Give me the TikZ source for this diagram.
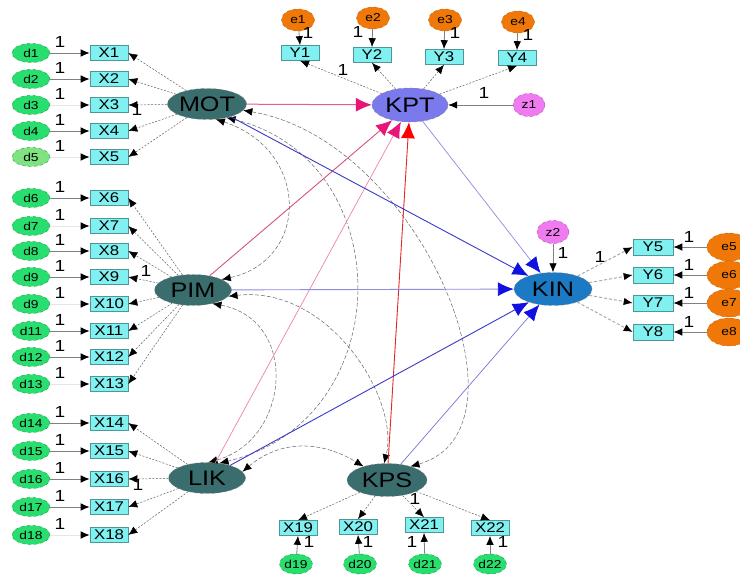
\documentclass[tikz,border=0pt]{standalone}
\usepackage{fontspec}
\setmainfont{Liberation Sans}
\newfontfamily\dfont[FakeStretch=1.2]{Liberation Sans}
\usetikzlibrary{shapes.geometric,arrows.meta}
\definecolor{latfill}{RGB}{58,110,110}
\definecolor{kptfill}{RGB}{122,122,236}
\definecolor{kinfill}{RGB}{28,122,196}
\definecolor{obsfill}{RGB}{128,240,240}
\definecolor{obsline}{RGB}{80,150,150}
\definecolor{dgreen}{RGB}{40,222,110}
\definecolor{dlight}{RGB}{128,226,128}
\definecolor{eorange}{RGB}{240,120,8}
\definecolor{zviolet}{RGB}{240,122,240}
\definecolor{mag}{RGB}{232,20,120}
\definecolor{magline}{RGB}{236,90,150}
\definecolor{pinkline}{RGB}{240,130,170}
\definecolor{redline}{RGB}{226,40,40}
\definecolor{bluehead}{RGB}{16,16,226}
\definecolor{bluedark}{RGB}{58,58,200}
\definecolor{bluelight}{RGB}{140,140,226}
\begin{document}
\begin{tikzpicture}[x=1pt,y=-1pt,
  lat/.style={ellipse, draw=black!50, dashed, line width=0.4pt, fill=latfill,
    minimum width=77pt, minimum height=31pt, inner sep=0pt,
    font=\dfont\fontsize{21}{21}\selectfont},
  obs/.style={rectangle, draw=obsline, line width=0.6pt, fill=obsfill,
    minimum width=38pt, minimum height=15pt, inner sep=0pt,
    font=\dfont\fontsize{14}{14}\selectfont},
  res/.style={ellipse, dashed, line width=0.4pt, minimum width=38pt,
    minimum height=19pt, inner sep=0pt, font=\dfont\fontsize{11.5}{11.5}\selectfont},
  dres/.style={res, fill=dgreen, draw=dgreen!70!black},
  eres/.style={res, fill=eorange, draw=eorange!80!black, minimum width=33pt, minimum height=22pt},
  zres/.style={res, fill=zviolet, draw=zviolet!70!black, minimum width=32pt, minimum height=23pt},
  one/.style={inner sep=0pt, font=\dfont\fontsize{16}{16}\selectfont},
  fix/.style={draw=gray, line width=0.8pt, -{Latex[color=black,length=9pt,width=7.5pt]}},
  load/.style={draw=gray!75!black, line width=0.5pt, dash pattern=on 2pt off 1.5pt,
    -{Latex[color=black,length=9pt,width=7.5pt]}},
  loadk/.style={draw=gray!65, line width=1pt, dash pattern=on 3pt off 2pt,
    -{Latex[color=black,length=9pt,width=7.5pt]}},
  cov/.style={draw=gray!80!black, line width=0.5pt, dash pattern=on 4pt off 2pt,
    {Latex[color=black,length=9pt,width=7.5pt]}-{Latex[color=black,length=9pt,width=7.5pt]}},
  tokpt/.style={line width=1pt, -{Latex[color=mag,length=16pt,width=14pt]}},
  tokin/.style={line width=0.9pt, -{Latex[color=bluehead,length=16pt,width=14pt]}}
]
\useasboundingbox (0,0) rectangle (740,577);
\clip (0,0) rectangle (740,577);
\fill[white] (0,0) rectangle (740,577);

% latent variables
\node[lat] (MOT) at (207,104) {MOT};
\node[lat] (PIM) at (193,290) {PIM};
\node[lat] (LIK) at (207,478) {LIK};
\node[lat, minimum width=80pt, minimum height=33pt] (KPS) at (387,480) {KPS};
\node[lat, fill=kptfill, minimum width=76pt, minimum height=34pt] (KPT) at (410,105) {KPT};
\node[lat, fill=kinfill, minimum width=78pt, minimum height=33pt] (KIN) at (553,289) {KIN};

% left indicators with their residuals
\foreach \i/\y/\lab/\fc/\lc in {
  1/53/d1/dgreen/gray, 2/79/d2/dgreen/gray, 3/105/d3/dgreen/gray!20,
  4/131/d4/dgreen/gray, 5/157/d5/dlight/gray!20,
  6/198/d6/dgreen/gray, 7/226/d7/dgreen/gray!20, 8/251/d8/dgreen/gray,
  9/277/d9/dgreen/gray, 10/304/d9/dgreen/gray!20, 11/331/d11/dgreen/gray,
  12/357/d12/dgreen/gray, 13/384/d13/dgreen/gray!20,
  14/423/d14/dgreen/gray, 15/451/d15/dgreen/gray, 16/479/d16/dgreen/gray,
  17/507/d17/dgreen/gray, 18/535/d18/dgreen/gray!20}{
  \node[dres, fill=\fc] (d\i) at (31,\y) {\lab};
  \node[obs] (X\i) at (109,\y) {X\i};
  \draw[fix, draw=\lc] (d\i) -- (X\i);
  \node[one] at (60,\y-11) {1};
}

% loadings of the left constructs
\foreach \i in {1,...,5} \draw[load] (MOT) -- (X\i.east);
\foreach \i in {6,...,13} \draw[load] (PIM) -- (X\i.east);
\foreach \i in {14,...,18} \draw[load] (LIK) -- (X\i.east);
\node[one] at (137,110) {1};
\node[one] at (146,271) {1};
\node[one] at (138,485) {1};

% KPT indicators
\foreach \i/\x/\y/\ex/\ey in {1/300/53/298/20, 2/372/55/373/18, 3/444/57/445/20, 4/517/58/518/22}{
  \node[obs] (Y\i) at (\x,\y) {Y\i};
  \node[eres] (e\i) at (\ex,\ey) {e\i};
  \draw[fix] (e\i) -- (Y\i.north);
  \draw[load] (KPT) -- (Y\i.south);
}
\node[one] at (308,33) {1};
\node[one] at (358,32) {1};
\node[one] at (455,33) {1};
\node[one] at (528,35) {1};
\node[one] at (343,70) {1};

\node[zres] (z1) at (529,105) {z1};
\draw[fix] (z1) -- (KPT);
\node[one] at (484,93) {1};

% KIN indicators
\node[zres] (z2) at (553,232) {z2};
\draw[fix] (z2) -- (KIN);
\node[one] at (563,253) {1};
\foreach \i/\y in {5/247, 6/275, 7/303, 8/332}{
  \node[obs, minimum width=40pt, minimum height=16pt] (Y\i) at (653,\y) {Y\i};
  \node[eres, minimum width=44pt, minimum height=28pt] (e\i) at (729,\y) {e\i};
  \draw[fix] (e\i) -- (Y\i.east);
  \draw[loadk] (KIN) -- (Y\i.west);
  \node[one] at (689,\y-10) {1};
}
\node[one] at (600,257) {1};

% KPS indicators
\foreach \i/\x/\y/\dx in {19/298/528/296, 20/358/527/360, 21/424/525/425, 22/490/528/490}{
  \node[obs] (X\i) at (\x,\y) {X\i};
  \node[dres, minimum width=33pt, minimum height=20pt] (d\i) at (\dx,564) {d\i};
  \draw[fix] (d\i) -- (X\i.south);
  \draw[load] (KPS) -- (X\i.north);
}
\node[one] at (309,542) {1};
\node[one] at (368,542) {1};
\node[one] at (412,542) {1};
\node[one] at (503,542) {1};
\node[one] at (415,499) {1};

% covariances among the exogenous constructs
\draw[cov] (MOT.-60) .. controls (310,150) and (310,260) .. (PIM.20);
\draw[cov] (MOT.-35) .. controls (400,160) and (400,420) .. (LIK.50);
\draw[cov] (MOT.-10) .. controls (420,140) and (540,430) .. (KPS.30);
\draw[cov] (PIM.-35) .. controls (300,320) and (290,440) .. (LIK.85);
\draw[cov] (PIM.-10) .. controls (330,285) and (400,400) .. (KPS.100);
\draw[cov] (LIK.10) .. controls (280,440) and (320,440) .. (KPS.150);

% paths into KPT
\draw[tokpt, magline] (MOT) -- (KPT);
\draw[tokpt, draw=magline!90!black, line width=0.9pt] (PIM) -- (KPT);
\draw[tokpt, draw=pinkline, line width=0.7pt] (LIK) -- (KPT);
\draw[redline, line width=0.9pt, -{Latex[color=red,length=16pt,width=14pt]}] (KPS) -- (KPT);

% paths into KIN
\draw[tokin, bluedark] (MOT) -- (KIN);
\draw[tokin, bluelight, line width=0.7pt] (KPT) -- (KIN);
\draw[tokin, bluelight, line width=0.9pt] (PIM) -- (KIN);
\draw[tokin, bluedark] (LIK) -- (KIN);
\draw[tokin, bluedark!70!white, line width=0.7pt] (KPS) -- (KIN);
\end{tikzpicture}
\end{document}
